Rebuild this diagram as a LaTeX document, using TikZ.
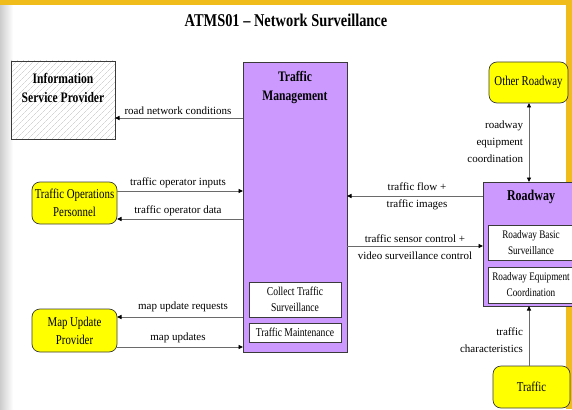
\documentclass[tikz,border=0pt]{standalone}
\usepackage{fontspec}
\setmainfont{Liberation Serif}
\newfontfamily\condfont{Liberation Serif}[FakeStretch=0.8,Ligatures=TeX]
\usetikzlibrary{arrows.meta,patterns.meta}
\definecolor{tmpurple}{HTML}{CC99FF}
\definecolor{extyellow}{HTML}{FFFF00}
\definecolor{bandgold}{HTML}{F0BC1C}
\definecolor{flowgray}{HTML}{6A6A6A}
\definecolor{edgegray}{HTML}{3A3A3A}
\begin{document}
\begin{tikzpicture}[x=1pt,y=-1pt,
  every node/.style={inner sep=0pt, outer sep=0pt},
  box/.style={draw=edgegray, line width=0.7pt},
  purplebox/.style={box, fill=tmpurple},
  subbox/.style={box, fill=white},
  extbox/.style={box, fill=extyellow, rounded corners=8pt},
  hatchbox/.style={box, preaction={fill=white}, preaction={pattern={Lines[angle=45,distance=4pt,line width=0.35pt]}, pattern color=gray!50}},
  flow/.style={draw=flowgray, line width=0.9pt, -{Triangle[length=4.5pt,width=4pt,color=black]}},
  flowboth/.style={draw=flowgray, line width=0.9pt, {Triangle[length=4.5pt,width=4pt,color=black]}-{Triangle[length=4.5pt,width=4pt,color=black]}},
  lbl/.style={font=\fontsize{11}{17}\selectfont, align=center},
  boxtitle/.style={font=\condfont\bfseries\fontsize{14.5}{19}\selectfont, align=center},
  exttext/.style={font=\condfont\fontsize{13.5}{18}\selectfont, align=center},
  subtext/.style={font=\condfont\fontsize{12}{16}\selectfont, align=center},
  rwsubtext/.style={font=\condfont\fontsize{11.5}{16}\selectfont, align=center}
]
\useasboundingbox (0,0) rectangle (572,409);
\begin{scope}
\clip (0,0) rectangle (572,409);
% page decoration
\fill[white] (0,0) rectangle (572,409);
\shade[left color=gray!40, right color=white] (0,5) rectangle (13,409);
\fill[bandgold] (0,0) rectangle (572,5);
\fill[bandgold] (566,0) rectangle (572,409);

\node[font=\condfont\bfseries\fontsize{18}{20}\selectfont] (title) at (286,20) {ATMS01 \textendash{} Network Surveillance};

% boxes
\node[hatchbox, minimum width=104pt, minimum height=78pt] (isp) at (63,100) {};
\node[boxtitle] (isp-t) at (63,87.5) {Information\\Service Provider};

\node[purplebox, minimum width=104pt, minimum height=290pt] (tm) at (295,207) {};
\node[boxtitle] (tm-t) at (295,87.5) {Traffic\\Management};
\node[subbox, minimum width=92pt, minimum height=35pt, subtext] (tm-s1) at (295,299.5) {Collect Traffic\\Surveillance};
\node[subbox, minimum width=92pt, minimum height=19pt, subtext] (tm-s2) at (295,332.5) {Traffic Maintenance};

\node[extbox, minimum width=85pt, minimum height=42pt, exttext] (top) at (74.5,203) {Traffic Operations\\Personnel};
\node[extbox, minimum width=85pt, minimum height=43pt, exttext] (mup) at (74.5,330.5) {Map Update\\Provider};

\node[extbox, minimum width=79pt, minimum height=41pt, exttext] (oth) at (528.5,82.5) {Other Roadway};
\node[extbox, minimum width=77pt, minimum height=42pt, exttext] (trf) at (531.5,387) {Traffic};

\node[purplebox, minimum width=97pt, minimum height=124pt] (rw) at (531.5,244) {};
\node[font=\condfont\bfseries\fontsize{15}{19}\selectfont] (rw-t) at (531,197) {Roadway};
\node[subbox, minimum width=86pt, minimum height=35pt, rwsubtext] (rw-s1) at (531,242.5) {Roadway Basic\\Surveillance};
\node[subbox, minimum width=86pt, minimum height=36pt, rwsubtext] (rw-s2) at (531,285) {Roadway Equipment\\Coordination};

% flows
\draw[flow] (tm.west |- 0,118) -- (isp.east |- 0,118);
\draw[flow] (top.east |- 0,191) -- (tm.west |- 0,191);
\draw[flow] (tm.west |- 0,219) -- (top.east |- 0,219);
\draw[flow] (tm.west |- 0,317) -- (mup.east |- 0,317);
\draw[flow] (mup.east |- 0,347) -- (tm.west |- 0,347);
\draw[flow] (rw.west |- 0,196) -- (tm.east |- 0,196);
\draw[flow] (tm.east |- 0,246) -- (rw.west |- 0,246);
\draw[flowboth] (oth.south -| 529,0) -- (rw.north -| 529,0);
\draw[flow] (trf.north -| 529,0) -- (rw.south -| 529,0);

% labels
\node[lbl] (l-rnc) at (178,111) {road network conditions};
\node[lbl] (l-toi) at (178,183) {traffic operator inputs};
\node[lbl] (l-tod) at (178,211) {traffic operator data};
\node[lbl] (l-mur) at (183,307) {map update requests};
\node[lbl] (l-mu) at (178,338) {map updates};
\node[lbl] (l-tf) at (417,196.5) {traffic flow +\\traffic images};
\node[lbl] (l-tsc) at (415,247) {traffic sensor control +\\video surveillance control};
\node[lbl, anchor=east, align=right] (l-rec) at (523,142) {roadway\\equipment\\coordination};
\node[lbl, anchor=east, align=right] (l-tc) at (523,340) {traffic\\characteristics};
\end{scope}
\end{tikzpicture}
\end{document}
